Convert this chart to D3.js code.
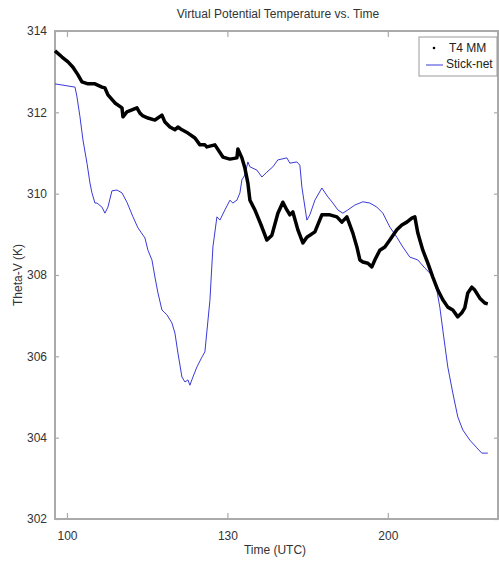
<!DOCTYPE html>
<html><head><meta charset="utf-8">
<script src="https://cdn.jsdelivr.net/npm/d3@7"></script>
<style>body{margin:0;background:#fff}svg{display:block;font-family:"Liberation Sans",Arial,sans-serif}</style>
</head><body><svg id="c" width="499" height="573"></svg>
<script>
// minutes after 01:00 UTC
const t4Time = [-2.24,-0.93,0.19,1.12,2.06,2.80,3.93,5.23,6.54,7.10,7.66,8.97,10.28,10.47,11.21,12.15,13.08,13.64,14.21,15.14,16.45,17.76,18.32,19.25,20.19,20.75,21.50,22.62,23.93,24.86,25.79,26.17,27.66,29.16,30.47,31.78,31.96,32.71,33.27,33.83,34.21,35.14,36.45,37.38,38.32,39.44,40.37,41.12,41.68,42.24,43.18,44.11,44.86,46.36,47.66,49.16,50.47,51.40,52.34,53.46,54.21,54.77,55.33,56.26,57.01,57.57,58.50,59.44,60.37,61.68,62.62,63.55,64.49,65.05,65.61,66.54,67.48,68.41,69.35,70.28,71.21,72.15,73.08,73.83,74.39,74.95,75.70,76.26,77.20,78.13,78.69];
const t4Theta = [313.51,313.36,313.24,313.11,312.92,312.75,312.70,312.70,312.62,312.60,312.43,312.23,312.11,311.89,312.01,312.06,312.11,311.98,311.91,311.86,311.81,311.93,311.76,311.64,311.57,311.64,311.57,311.49,311.37,311.20,311.20,311.15,311.20,310.90,310.85,310.88,311.10,310.88,310.63,310.26,309.84,309.60,309.18,308.86,308.98,309.52,309.79,309.60,309.48,309.55,309.11,308.79,308.93,309.06,309.48,309.48,309.43,309.30,309.43,309.03,308.69,308.37,308.32,308.29,308.20,308.37,308.61,308.69,308.86,309.11,309.23,309.30,309.40,309.43,309.03,308.61,308.29,307.95,307.63,307.39,307.21,307.14,306.97,307.07,307.19,307.56,307.70,307.63,307.43,307.31,307.29];
const snTime = [-2.24,1.50,1.87,2.43,2.99,3.74,4.30,4.67,5.23,5.61,6.54,7.10,7.66,8.41,9.35,10.28,11.21,12.34,13.27,14.58,15.14,15.89,16.45,17.01,17.76,18.69,19.63,20.19,20.75,21.50,22.06,22.62,22.99,23.55,24.30,25.23,25.79,26.73,27.29,28.04,28.60,29.53,30.47,31.03,31.78,32.34,32.71,33.27,33.83,34.21,35.51,36.45,37.38,38.50,39.44,41.12,41.68,42.99,43.55,43.93,44.86,45.42,46.36,47.66,48.79,49.72,50.65,51.59,52.52,53.83,55.33,56.64,57.94,59.07,60.37,61.68,62.80,64.11,65.61,66.92,68.22,69.16,69.72,70.28,71.21,72.15,73.08,74.02,75.33,76.64,77.57,78.69];
const snTheta = [312.70,312.62,312.38,311.89,311.32,310.75,310.26,310.02,309.77,309.77,309.67,309.52,309.67,310.07,310.09,310.02,309.79,309.43,309.16,308.91,308.61,308.37,307.95,307.56,307.14,307.02,306.82,306.57,306.08,305.49,305.37,305.42,305.29,305.49,305.74,305.98,306.11,307.38,308.69,309.43,309.35,309.60,309.84,309.77,309.84,310.02,310.34,310.46,310.78,310.66,310.58,310.41,310.53,310.66,310.83,310.88,310.75,310.78,310.70,310.16,309.35,309.48,309.84,310.14,309.92,309.77,309.60,309.52,309.60,309.72,309.80,309.77,309.67,309.52,309.18,308.93,308.69,308.44,308.37,308.17,308.00,307.63,307.21,306.65,305.74,305.10,304.51,304.19,303.94,303.75,303.62,303.62];
const xTickVals = [0,30,60];
const xTickLabels = ["100","130","200"];
const yTickVals = [302,304,306,308,310,312,314];
const seriesNames = ["T4 MM","Stick-net"];

const svg = d3.select("#c");
const L=55, R=498, T=31, B=519;
const x = d3.scaleLinear().domain([-2.24, 80.6]).range([L,R]);
const y = d3.scaleLinear().domain([302,314]).range([B,T]);
const axisCol="#aaa";

// box
svg.append("rect").attr("x",L).attr("y",T).attr("width",R-L).attr("height",B-T)
  .attr("fill","none").attr("stroke",axisCol).attr("stroke-width",2);

const fmtX = (d,i)=>xTickLabels[i];
const bx = svg.append("g").attr("transform",`translate(0,${B})`)
  .call(d3.axisBottom(x).tickValues(xTickVals).tickFormat(fmtX).tickSizeInner(-6).tickSizeOuter(0).tickPadding(12));
const tx = svg.append("g").attr("transform",`translate(0,${T})`)
  .call(d3.axisTop(x).tickValues(xTickVals).tickFormat("").tickSizeInner(-6).tickSizeOuter(0));
const ly = svg.append("g").attr("transform",`translate(${L},0)`)
  .call(d3.axisLeft(y).tickValues(yTickVals).tickFormat(d3.format("d")).tickSizeInner(-4).tickSizeOuter(0).tickPadding(8));
const ry = svg.append("g").attr("transform",`translate(${R},0)`)
  .call(d3.axisRight(y).tickValues(yTickVals).tickFormat("").tickSizeInner(-4).tickSizeOuter(0));
[bx,tx,ly,ry].forEach(g=>{
  g.select(".domain").remove();
  g.selectAll(".tick line").attr("stroke",axisCol).attr("stroke-width",1.2);
  g.selectAll("text").attr("fill","#333").attr("font-size",12).attr("font-family","Liberation Sans Narrow, Liberation Sans, Arial");
});

const line = d3.line().x(d=>x(d[0])).y(d=>y(d[1]));
const sn = snTime.map((t,i)=>[t,snTheta[i]]);
const t4 = t4Time.map((t,i)=>[t,t4Theta[i]]);
svg.append("path").datum(sn).attr("d",line).attr("fill","none").attr("stroke","#3a3ad8").attr("stroke-width",1);
svg.append("path").datum(t4).attr("d",line).attr("fill","none").attr("stroke","#000").attr("stroke-width",3.5).attr("stroke-linejoin","round");

// title & labels
svg.append("text").attr("x",278).attr("y",18).attr("text-anchor","middle").attr("font-size",12)
  .attr("font-family","Liberation Sans Narrow, Liberation Sans, Arial").attr("fill","#333").text("Virtual Potential Temperature vs. Time");
svg.append("text").attr("x",275).attr("y",554).attr("text-anchor","middle").attr("font-size",12)
  .attr("font-family","Liberation Sans Narrow, Liberation Sans, Arial").attr("fill","#333").text("Time (UTC)");
svg.append("text").attr("transform","translate(22,275) rotate(-90)").attr("text-anchor","middle").attr("font-size",12)
  .attr("font-family","Liberation Sans Narrow, Liberation Sans, Arial").attr("fill","#333").text("Theta-V (K)");

// legend
const lg = svg.append("g");
lg.append("rect").attr("x",419).attr("y",37).attr("width",78).attr("height",39).attr("fill","#fff").attr("stroke","#999").attr("stroke-width",1);
lg.append("circle").attr("cx",434).attr("cy",48).attr("r",1.3).attr("fill","#000");
lg.append("line").attr("x1",426).attr("x2",443).attr("y1",65).attr("y2",65).attr("stroke","#3a3ad8").attr("stroke-width",1);
lg.selectAll("text.lt").data(seriesNames).join("text").attr("class","lt")
  .attr("x",(d,i)=>i===0?449:446).attr("y",(d,i)=>52+i*16).attr("font-size",12)
  .attr("font-family","Liberation Sans Narrow, Liberation Sans, Arial").attr("fill","#222").text(d=>d);
</script></body></html>
